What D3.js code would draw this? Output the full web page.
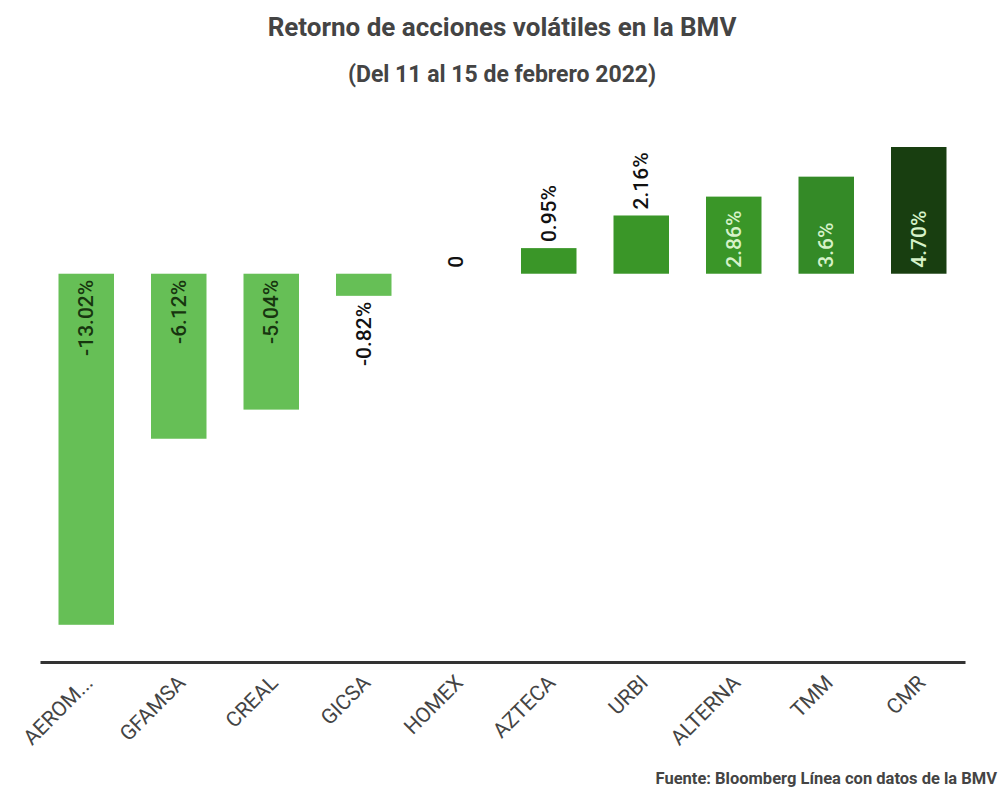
<!DOCTYPE html>
<html>
<head>
<meta charset="utf-8">
<script src="https://cdn.jsdelivr.net/npm/d3@7"></script>
<style>
  body { margin: 0; background: #fff; font-family: Roboto, "Noto Sans", sans-serif; }
</style>
</head>
<body>
<script>
// Data
let categories = ["AEROM...", "GFAMSA", "CREAL", "GICSA", "HOMEX", "AZTECA", "URBI", "ALTERNA", "TMM", "CMR"];
let values = [-13.02, -6.12, -5.04, -0.82, 0, 0.95, 2.16, 2.86, 3.6, 4.70];
let labels = ["-13.02%", "-6.12%", "-5.04%", "-0.82%", "0", "0.95%", "2.16%", "2.86%", "3.6%", "4.70%"];
let barColors = ["#66bf56", "#66bf56", "#66bf56", "#66bf56", "#66bf56", "#3a9628", "#3a9628", "#3a9628", "#348a27", "#183e10"];

let width = 1000, height = 800;
let svg = null;
let x, y = null;

// Main Process
appendSvg("body");
setupScales();
appendTitles();
appendChartBars();
appendBarLabels();
appendXAxis();

function appendSvg(domElement) {
    svg = d3.select(domElement).append("svg")
            .attr("width", width)
            .attr("height", height);
}

function setupScales() {
    x = d3.scaleBand()
            .range([40, 965])
            .domain(categories)
            .paddingInner(0.4)
            .paddingOuter(0.2);

    y = d3.scaleLinear()
            .domain([-14.4, 4.7])
            .range([662, 147]);
}

function appendTitles() {
    svg.append("text")
        .attr("x", 502).attr("y", 36)
        .attr("text-anchor", "middle")
        .attr("font-size", 26).attr("font-weight", "bold")
        .attr("fill", "#444")
        .text("Retorno de acciones volátiles en la BMV");

    svg.append("text")
        .attr("x", 502).attr("y", 82)
        .attr("text-anchor", "middle")
        .attr("font-size", 23).attr("font-weight", "bold")
        .attr("fill", "#444")
        .text("(Del 11 al 15 de febrero 2022)");

    svg.append("text")
        .attr("x", 997).attr("y", 784)
        .attr("text-anchor", "end")
        .attr("font-size", 16.5).attr("font-weight", "bold")
        .attr("fill", "#444")
        .text("Fuente: Bloomberg Línea con datos de la BMV");
}

function appendChartBars() {
    svg.selectAll("rect.bar")
        .data(values)
        .enter()
        .append("rect")
        .attr("class", "bar")
        .attr("x", (d, i) => x(categories[i]))
        .attr("width", x.bandwidth())
        .attr("y", d => y(Math.max(0, d)))
        .attr("height", d => Math.abs(y(d) - y(0)))
        .attr("fill", (d, i) => barColors[i]);
}

// rotated value labels, inside the bar when it fits
function appendBarLabels() {
    let g = svg.append("g");
    values.forEach(function(d, i) {
        let cx = x(categories[i]) + x.bandwidth() / 2;
        let t = g.append("text")
                .attr("font-size", 21)
                .attr("font-weight", 500)
                .text(labels[i]);
        let len = t.node().getComputedTextLength();
        let barLen = Math.abs(y(d) - y(0));
        let inside = barLen > len + 10;
        let ty, anchor, fill;
        if (d >= 0) {
            ty = inside ? y(0) - 6 : y(d) - 6;
            anchor = "start";
            fill = inside ? "#d6f2c9" : "#111";
        } else {
            ty = inside ? y(0) + 6 : y(d) + 6;
            anchor = "end";
            fill = inside ? "#17350f" : "#111";
        }
        t.attr("transform", `translate(${cx + 7}, ${ty}) rotate(-90)`)
         .attr("text-anchor", anchor)
         .attr("fill", fill);
    });
}

function appendXAxis() {
    let axis = svg.append("g")
        .attr("transform", "translate(0, 662)")
        .call(d3.axisBottom(x).tickSize(0).tickPadding(0));

    axis.select(".domain")
        .attr("stroke", "#333")
        .attr("stroke-width", 3);

    axis.selectAll("text")
        .attr("font-family", "Roboto, sans-serif")
        .attr("font-size", 21)
        .attr("fill", "#444")
        .attr("text-anchor", "end")
        .attr("dy", 0)
        .attr("transform", "translate(8, 22) rotate(-45)");
}
</script>
</body>
</html>
